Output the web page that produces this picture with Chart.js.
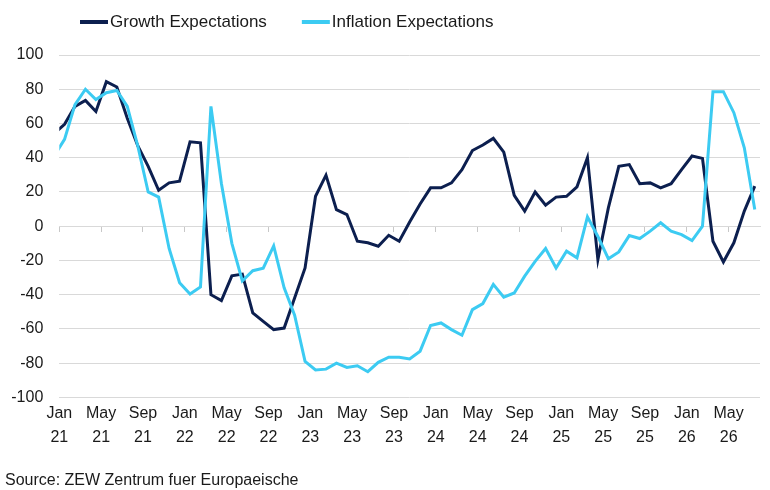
<!DOCTYPE html>
<html lang="en">
<head>
    <meta charset="UTF-8">
    <title>ZEW Expectations</title>
    <script src="https://cdn.jsdelivr.net/npm/chart.js@4/dist/chart.umd.min.js"></script>
    <style>
        html, body { margin: 0; padding: 0; background: #fff; }
        #wrap { width: 770px; height: 490px; }
    </style>
</head>
<body>
<div id="wrap"><canvas id="main_chart"></canvas></div>
<script>
    // monthly survey readings, first one (Dec 20) sits just left of the axis and gets clipped
    const months = [
        '2020-12',
        '2021-01', '2021-02', '2021-03', '2021-04', '2021-05', '2021-06', '2021-07', '2021-08', '2021-09', '2021-10', '2021-11', '2021-12',
        '2022-01', '2022-02', '2022-03', '2022-04', '2022-05', '2022-06', '2022-07', '2022-08', '2022-09', '2022-10', '2022-11', '2022-12',
        '2023-01', '2023-02', '2023-03', '2023-04', '2023-05', '2023-06', '2023-07', '2023-08', '2023-09', '2023-10', '2023-11', '2023-12',
        '2024-01', '2024-02', '2024-03', '2024-04', '2024-05', '2024-06', '2024-07', '2024-08', '2024-09', '2024-10', '2024-11', '2024-12',
        '2025-01', '2025-02', '2025-03', '2025-04', '2025-05', '2025-06', '2025-07', '2025-08', '2025-09', '2025-10', '2025-11', '2025-12',
        '2026-01', '2026-02', '2026-03', '2026-04', '2026-05', '2026-06', '2026-07'
    ];
    const growth = [
        54,
        59.5, 70, 73.5, 67, 84.4, 81.3, 63, 47, 35, 21, 25.3, 26.3,
        49.3, 48.7, -40, -43.5, -29, -28, -50.7, -55.6, -60.4, -59.5, -42, -24.4,
        17.5, 29.8, 9.7, 6.8, -8.8, -9.7, -11.7, -5.3, -8.8, 2.5, 13, 22.4,
        22.4, 25.3, 33, 44.2, 47.4, 51.3, 43.3, 18, 8.8, 20, 12.3, 17,
        17.5, 23, 40, -19.5, 10.7, 35, 36, 24.8, 25.3, 22.4, 24.8, 33,
        41, 39.6, -8.8, -20.9, -9.7, 8.8, 23.4
    ];
    const inflation = [
        41,
        50.7, 71, 80, 74, 78, 79.3, 70, 47, 20, 17, -13, -33,
        -39.6, -35.5, 70, 25, -10, -32, -26, -24.5, -11.5, -36, -52, -79,
        -84, -83.5, -80, -82.5, -81.5, -85, -79.5, -76.5, -76.5, -77.5, -73, -58,
        -56.5, -60.4, -63.7, -48.7, -45.2, -34, -41.5, -39, -29.2, -20.5, -13, -24.4,
        -14.6, -18.5, 5.5, -6, -19, -15, -5.5, -7.2, -2.9, 2, -2.9, -4.9,
        -8.4, 0, 78.6, 78.6, 66.3, 45.8, 9.7
    ];
    // one label every four months, starting Jan 21
    const tickLabels = [
        ['Jan', '21'], ['May', '21'], ['Sep', '21'],
        ['Jan', '22'], ['May', '22'], ['Sep', '22'],
        ['Jan', '23'], ['May', '23'], ['Sep', '23'],
        ['Jan', '24'], ['May', '24'], ['Sep', '24'],
        ['Jan', '25'], ['May', '25'], ['Sep', '25'],
        ['Jan', '26'], ['May', '26']
    ];
    const seriesNames = ['Growth Expectations', 'Inflation Expectations'];
    const DARK = '#0c1f4f';
    const LIGHT = '#3ccbf2';
    const FONT = "'Liberation Sans', Arial, sans-serif";

    // months since Jan 2021, readings plotted mid-month
    function monthPos(s) {
        const [y, m] = s.split('-').map(Number);
        return (y - 2021) * 12 + (m - 1) + 0.5;
    }
    function toPoints(values) {
        return values.map((v, i) => ({x: monthPos(months[i]), y: v}));
    }
    function setTicks(scale) {
        scale.ticks = tickLabels.map((t, i) => ({value: i * 4}));
    }

    // legend drawn by hand: short line sample hugging the text
    const lineLegend = {
        id: 'lineLegend',
        afterDraw(chart) {
            const ctx = chart.ctx;
            ctx.save();
            ctx.font = '17px ' + FONT;
            ctx.textBaseline = 'middle';
            let x = 80;
            const y = 22;
            chart.data.datasets.forEach(ds => {
                ctx.strokeStyle = ds.borderColor;
                ctx.lineWidth = 4;
                ctx.beginPath();
                ctx.moveTo(x, y);
                ctx.lineTo(x + 28, y);
                ctx.stroke();
                ctx.fillStyle = '#1a1a1a';
                ctx.fillText(ds.label, x + 30, y);
                x += 30 + ctx.measureText(ds.label).width + 35;
            });
            ctx.restore();
        }
    };

    Chart.defaults.font.family = FONT;
    Chart.defaults.color = '#1a1a1a';

    const canvas = document.getElementById('main_chart').getContext('2d');
    const chart = new Chart(canvas, {
        type: 'line',
        data: {
            datasets: [{
                label: seriesNames[0],
                data: toPoints(growth),
                borderColor: DARK,
                borderWidth: 3,
                pointRadius: 0,
                order: 1,
                clip: 0
            }, {
                label: seriesNames[1],
                data: toPoints(inflation),
                borderColor: LIGHT,
                borderWidth: 3,
                pointRadius: 0,
                order: 0,
                clip: 0
            }]
        },
        options: {
            animation: false,
            responsive: true,
            maintainAspectRatio: false,
            layout: {padding: {top: 55, left: 5, right: 10, bottom: 0}},
            plugins: {
                legend: {display: false},
                tooltip: {enabled: false},
                subtitle: {
                    display: true,
                    position: 'bottom',
                    align: 'start',
                    text: 'Source: ZEW Zentrum fuer Europaeische',
                    font: {size: 16},
                    color: '#1a1a1a',
                    padding: {top: 17, bottom: 0}
                }
            },
            scales: {
                x: {
                    type: 'linear',
                    min: 0,
                    max: 67,
                    afterBuildTicks: setTicks,
                    grid: {display: false, drawTicks: false},
                    border: {display: false},
                    ticks: {
                        padding: 5,
                        maxRotation: 0,
                        autoSkip: false,
                        font: {size: 16, lineHeight: 1.45},
                        callback: v => tickLabels[v / 4]
                    }
                },
                // axis line and tick marks sitting on zero
                x0: {
                    type: 'linear',
                    position: {y: 0},
                    min: 0,
                    max: 67,
                    afterBuildTicks: setTicks,
                    ticks: {display: false},
                    grid: {drawOnChartArea: false, drawTicks: true, tickLength: 5, color: '#c8c8c8'},
                    border: {display: true, color: '#d9d9d9', width: 1}
                },
                y: {
                    min: -100,
                    max: 100,
                    grid: {color: '#d9d9d9', lineWidth: 1, drawTicks: false},
                    border: {display: false},
                    ticks: {stepSize: 20, padding: 16, font: {size: 16}},
                    afterFit: s => { s.width = 54.3; }
                }
            }
        },
        plugins: [lineLegend]
    });
</script>
</body>
</html>
